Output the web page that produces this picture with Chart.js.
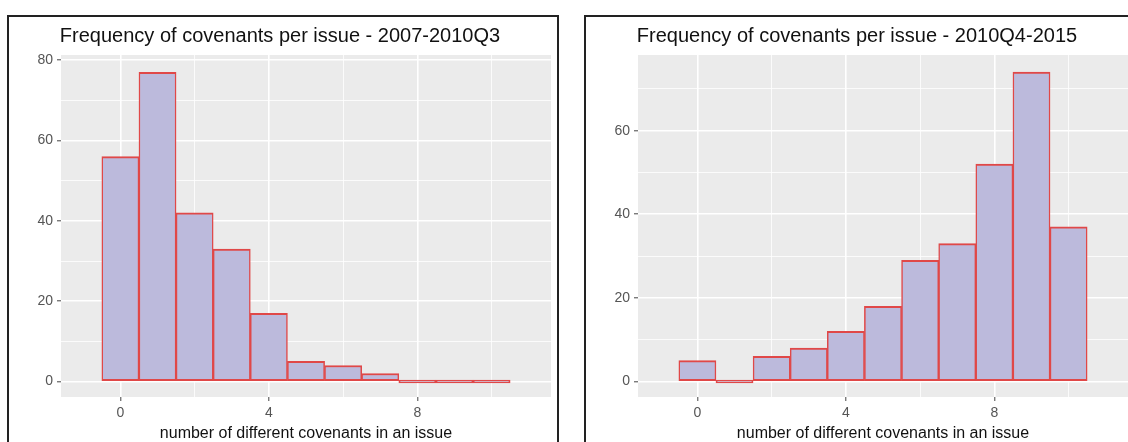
<!DOCTYPE html>
<html>
<head>
<meta charset="utf-8">
<script src="https://cdn.jsdelivr.net/npm/chart.js@4.4.1/dist/chart.umd.min.js"></script>
<style>
  html, body { margin: 0; padding: 0; background: #fff; overflow: hidden; width: 1128px; height: 442px; }
  .panel { position: absolute; top: 15px; border: 2px solid #222; width: 548px; height: 440px; background: #fff; }
  #panelLeft { left: 7px; }
  #panelRight { left: 584px; }
</style>
</head>
<body>
<div class="panel" id="panelLeft"><canvas id="histLeft" width="548" height="440"></canvas></div>
<div class="panel" id="panelRight"><canvas id="histRight" width="548" height="440"></canvas></div>
<script>
// --- dati ---
const bins = [0, 1, 2, 3, 4, 5, 6, 7, 8, 9, 10];
const countsLeft = [56, 77, 42, 33, 17, 5, 4, 2, 0, 0, 0];
const countsRight = [5, 0, 6, 8, 12, 18, 29, 33, 52, 74, 37];

const titleLeft = 'Frequency of covenants per issue - 2007-2010Q3';
const titleRight = 'Frequency of covenants per issue - 2010Q4-2015';
const xTitle = 'number of different covenants in an issue';

const xGridValues = [0, 2, 4, 6, 8, 10];
const xLabelValues = [0, 4, 8];
const yGridLeft = [0, 10, 20, 30, 40, 50, 60, 70, 80];
const yGridRight = [0, 10, 20, 30, 40, 50, 60, 70];
const yLabelValues = [0, 20, 40, 60, 80];

Chart.defaults.font.family = '"Liberation Sans", Arial, sans-serif';

// sfondo grigio del pannello (stile ggplot)
const panelBg = {
  id: 'panelBg',
  beforeDraw(chart) {
    const { ctx, chartArea: a } = chart;
    ctx.save();
    ctx.fillStyle = '#ebebeb';
    ctx.fillRect(a.left, a.top, a.right - a.left, a.bottom - a.top);
    ctx.restore();
  }
};

function creaIstogramma(canvasId, counts, title, yGrid, yMin, yMax) {
  const ctx = document.getElementById(canvasId).getContext('2d');
  // il contesto scriptable a volte non ha il tick
  const isMajorX = c => !!(c && c.tick && xLabelValues.includes(c.tick.value));
  const isMajorY = c => !!(c && c.tick && yLabelValues.includes(c.tick.value));
  return new Chart(ctx, {
    type: 'bar',
    data: {
      datasets: [{
        data: counts.map((c, i) => ({ x: bins[i], y: c })),
        backgroundColor: '#bcbadc',
        borderColor: '#e04848',
        borderWidth: { top: 2, bottom: 2, left: 1.5, right: 1.5 },
        borderSkipped: false,
        minBarLength: 3,
        barPercentage: 1,
        categoryPercentage: 1
      }]
    },
    options: {
      responsive: false,
      animation: false,
      layout: { padding: { left: 0, right: 6, top: 0, bottom: 0 } },
      plugins: {
        legend: { display: false },
        tooltip: { enabled: false },
        title: {
          display: true,
          text: title,
          color: '#111',
          font: { size: 20, weight: 'normal', lineHeight: 1.2 },
          padding: { top: 7, bottom: 7 }
        }
      },
      scales: {
        x: {
          type: 'linear',
          min: -1.6,
          max: 11.6,
          offset: false,
          afterBuildTicks: s => { s.ticks = xGridValues.map(v => ({ value: v })); },
          afterFit: s => { s.height = 60; },
          border: { display: false },
          grid: {
            offset: false,
            color: '#ffffff',
            lineWidth: c => (isMajorX(c) ? 1.6 : 0.8),
            tickColor: c => (isMajorX(c) ? '#444' : 'rgba(0,0,0,0)'),
            tickLength: 4,
            tickWidth: 1
          },
          ticks: {
            autoSkip: false,
            maxRotation: 0,
            padding: 4,
            color: '#555',
            font: { size: 14 },
            callback: v => (xLabelValues.includes(v) ? String(v) : '')
          },
          title: {
            display: true,
            text: xTitle,
            color: '#111',
            font: { size: 16, lineHeight: 1.2 },
            padding: { top: 0, bottom: 14 }
          }
        },
        y: {
          min: yMin,
          max: yMax,
          afterBuildTicks: s => { s.ticks = yGrid.map(v => ({ value: v })); },
          afterFit: s => { s.width = 52; },
          border: { display: false },
          grid: {
            color: '#ffffff',
            lineWidth: c => (isMajorY(c) ? 1.6 : 0.8),
            tickColor: c => (isMajorY(c) ? '#444' : 'rgba(0,0,0,0)'),
            tickLength: 4,
            tickWidth: 1
          },
          ticks: {
            autoSkip: false,
            padding: 4,
            color: '#555',
            font: { size: 14 },
            callback: v => (yLabelValues.includes(v) ? String(v) : '')
          }
        }
      }
    },
    plugins: [panelBg]
  });
}

creaIstogramma('histLeft', countsLeft, titleLeft, yGridLeft, -3.85, 81.3);
creaIstogramma('histRight', countsRight, titleRight, yGridRight, -3.7, 78.1);
</script>
</body>
</html>
